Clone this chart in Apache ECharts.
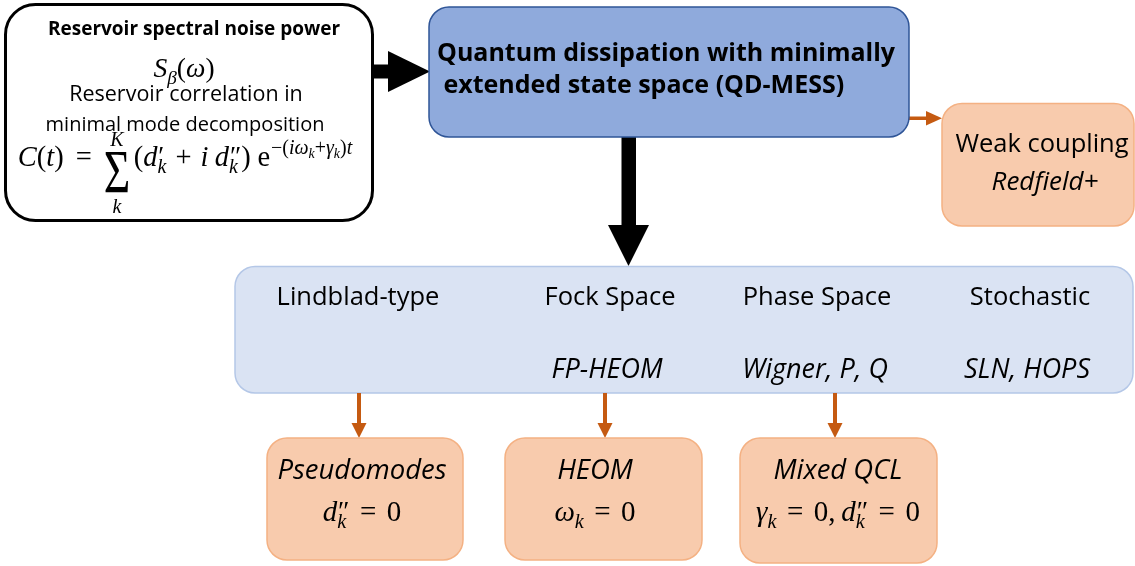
<!DOCTYPE html>
<html><head><meta charset="utf-8">
<script src="https://cdn.jsdelivr.net/npm/echarts@6/dist/echarts.min.js"></script>
<style>html,body{margin:0;padding:0;background:#fff}#c{width:1135px;height:566px}</style>
</head><body><div id="c"></div>
<script>
// ---------------- content ----------------
const inputTitle = 'Reservoir spectral noise power';
const inputLines = ['Reservoir correlation in', 'minimal mode decomposition'];
const coreTitle = ['Quantum dissipation with minimally', ' extended state space (QD-MESS)'];
const weakLines = ['Weak coupling', 'Redfield+'];
const spaceCategories = ['Lindblad-type', 'Fock Space', 'Phase Space', 'Stochastic'];
const spaceMethods = ['', 'FP-HEOM', 'Wigner, P, Q', 'SLN, HOPS'];
const limitNames = ['Pseudomodes', 'HEOM', 'Mixed QCL'];

// math token lists
const mathSpectrum = [{t:'S',it:1,sub:'β'},{t:'('},{t:'ω',it:1},{t:')'}];
const mathCorrelation = [
  {t:'C',it:1},{t:'('},{t:'t',it:1},{t:')'},{sp:.42},{t:'='},{sp:.42},
  {t:'Σ',k:1.6,sy:1.33,mid:.28,over:'K',overDy:-.72,under:'k',underDy:1.64},{sp:.12},
  {t:'('},{t:'d',it:1,pr:'′',sub:'k'},{sp:.32},{t:'+'},{sp:.32},{t:'i',it:1},{sp:.22},
  {t:'d',it:1,pr:'″',sub:'k'},{t:')'},{sp:.24},
  {t:'e',supG:[{t:'−'},{t:'('},{t:'i',it:1},{t:'ω',it:1,sub:'k'},{t:'+'},{t:'γ',it:1,sub:'k'},{t:')'},{t:'t',it:1}]}
];
const limitConditions = [
  [{t:'d',it:1,pr:'″',sub:'k'},{sp:.36},{t:'='},{sp:.36},{t:'0'}],
  [{t:'ω',it:1,sub:'k'},{sp:.36},{t:'='},{sp:.36},{t:'0'}],
  [{t:'γ',it:1,sub:'k'},{sp:.36},{t:'='},{sp:.36},{t:'0'},{t:','},{sp:.2},{t:'d',it:1,pr:'″',sub:'k'},{sp:.36},{t:'='},{sp:.36},{t:'0'}]
];

// ---------------- layout & style ----------------
const SANS = 'Open Sans';
const SERIF = 'Liberation Serif';
const ORANGE_FILL = '#F8CBAD', ORANGE_LINE = '#F4B183', ARROW_OR = '#C55A11';
const spaceX = [358, 610, 817, 1030];
const methodX = [0, 607, 815, 1027];
const limitBoxes = [[267,438,196,122],[505,438,197,122],[740,438,197,125]];
const limitX = [362, 595, 838];
const arrowX = [359, 605, 835];

const MC = document.createElement('canvas').getContext('2d');
function measure(t, size, it) { MC.font = (it ? 'italic ' : '') + size + 'px "' + SERIF + '"'; return MC.measureText(t).width; }
function lay(tokens, s, base) {
  const out = []; let x = 0;
  for (const tk of tokens) {
    if (tk.sp !== undefined) { x += tk.sp * s; continue; }
    const size = s * (tk.k || 1);
    const w = measure(tk.t, size, tk.it);
    if (tk.mid !== undefined) out.push({x: x, y: base + tk.mid * s, t: tk.t, size: size, it: tk.it, sy: tk.sy});
    else out.push({x: x, b: base, t: tk.t, size: size, it: tk.it});
    let ext = 0;
    if (tk.pr !== undefined) { const ss = s * 0.95; out.push({x: x + w + 0.03 * s, b: base - 0.04 * s, t: tk.pr, size: ss}); ext = Math.max(ext, measure(tk.pr, ss) + 0.03 * s); }
    if (tk.supG) { const r = lay(tk.supG, s * 0.7, base - 0.45 * s); r.out.forEach(o => { o.x += x + w + 0.03 * s; out.push(o); }); ext = Math.max(ext, r.w + 0.03 * s); }
    if (tk.sub !== undefined) { const ss = s * 0.7; out.push({x: x + w, b: base + 0.22 * s, t: tk.sub, size: ss, it: true}); ext = Math.max(ext, measure(tk.sub, ss, true)); }
    if (tk.over !== undefined) { const ss = s * 0.7; const wo = measure(tk.over, ss, true); out.push({x: x + (w - wo) / 2, b: base + tk.overDy * s, t: tk.over, size: ss, it: true}); }
    if (tk.under !== undefined) { const ss = s * 0.7; const wu = measure(tk.under, ss, true); out.push({x: x + (w - wu) / 2, b: base + tk.underDy * s, t: tk.under, size: ss, it: true}); }
    x += w + ext;
  }
  return {out: out, w: x};
}
function mathEls(tokens, cx, base, s) {
  const r = lay(tokens, s, base);
  const x0 = cx - r.w / 2;
  return r.out.map(o => ({type: 'text', silent: true, x: x0 + o.x, y: o.y !== undefined ? o.y : o.b - 0.34 * o.size,
    scaleY: o.sy || 1,
    style: {text: o.t, fontFamily: SERIF, fontSize: o.size, fontStyle: o.it ? 'italic' : 'normal', fill: '#000', align: 'left', verticalAlign: 'middle'}}));
}
function txt(t, x, y, size, o) {
  o = o || {};
  return {type: 'text', silent: true, x: x, y: y, style: {text: t, fontFamily: SANS, fontSize: size,
    fontWeight: o.bold ? 'bold' : 'normal', fontStyle: o.it ? 'italic' : 'normal', fill: o.fill || '#000',
    align: o.align || 'center', verticalAlign: 'middle'}};
}
function rect(x, y, w, h, r, fill, stroke, lw) {
  return {type: 'rect', silent: true, shape: {x: x, y: y, width: w, height: h, r: r}, style: {fill: fill, stroke: stroke, lineWidth: lw}};
}
function poly(pts, fill) { return {type: 'polygon', silent: true, shape: {points: pts}, style: {fill: fill}}; }

const els = [];
// black arrows
els.push(rect(372, 64.5, 20, 14, 0, '#000', null, 0));
els.push(poly([[388, 51], [430, 71.5], [388, 92]], '#000'));
els.push(rect(621.5, 137, 14.5, 90, 0, '#000', null, 0));
els.push(poly([[608, 225], [649, 225], [628.5, 266]], '#000'));
// orange arrow to weak coupling
els.push(rect(909, 116.5, 20, 3.5, 0, ARROW_OR, null, 0));
els.push(poly([[926, 111], [942, 118.2], [926, 125.5]], ARROW_OR));

// box 1
els.push(rect(5.5, 4.5, 367, 216, 30, '#fff', '#000', 3));
els.push(txt(inputTitle, 194, 30, 19, {bold: 1}));
els.push(...mathEls(mathSpectrum, 184, 79, 27.5));
els.push(txt(inputLines[0], 186, 95, 21.5));
els.push(txt(inputLines[1], 185, 125, 20));
els.push(...mathEls(mathCorrelation, 185, 168, 28.5));

// box 2
els.push(rect(429, 7, 480, 130, 20, '#8FAADC', '#2F5597', 1.5));
els.push(txt(coreTitle[0], 437, 54, 25, {bold: 1, align: 'left'}));
els.push(txt(coreTitle[1], 437, 86, 25, {bold: 1, align: 'left'}));

// weak coupling box
els.push(rect(942, 103.5, 192, 122.5, 20, ORANGE_FILL, ORANGE_LINE, 1.5));
els.push(txt(weakLines[0], 1042, 145, 25.5));
els.push(txt(weakLines[1], 1045, 183, 26, {it: 1}));

// box 3
els.push(rect(235, 266.5, 898, 126.5, 20, '#DAE3F3', '#B4C7E7', 1.5));
spaceCategories.forEach((c, i) => els.push(txt(c, spaceX[i], 298, 25.5)));
spaceMethods.forEach((c, i) => { if (c) els.push(txt(c, methodX[i], 370, 27, {it: 1})); });

// orange arrows down + limit boxes
arrowX.forEach(x => {
  els.push(rect(x - 2, 393, 4, 31, 0, ARROW_OR, null, 0));
  els.push(poly([[x - 7.5, 423], [x + 7.5, 423], [x, 438]], ARROW_OR));
});
limitBoxes.forEach((b, i) => {
  els.push(rect(b[0], b[1], b[2], b[3], 20, ORANGE_FILL, ORANGE_LINE, 1.5));
  els.push(txt(limitNames[i], limitX[i], 471, 27.5, {it: 1}));
  els.push(...mathEls(limitConditions[i], limitX[i], 523, 29));
});

const chart = echarts.init(document.getElementById('c'), null, {renderer: 'canvas'});
chart.setOption({backgroundColor: '#fff', animation: false, graphic: {elements: els}});
</script></body></html>
